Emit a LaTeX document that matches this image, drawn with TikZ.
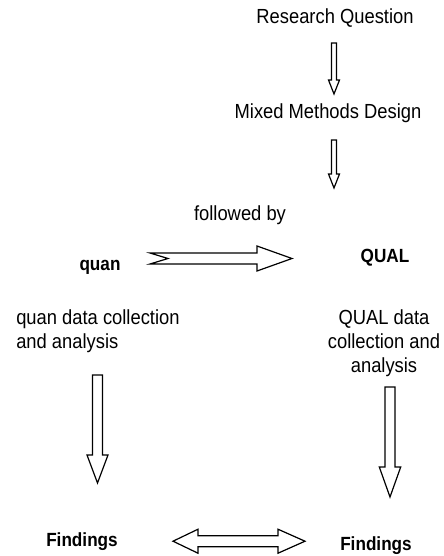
\documentclass[tikz,border=0pt]{standalone}
\usepackage{fontspec}
\setmainfont{Liberation Sans}[FakeStretch=0.9]
\begin{document}
\begin{tikzpicture}[x=0.75pt,y=-0.75pt,
  txt/.style={inner sep=0pt,font=\fontsize{15.3}{18}\selectfont},
  btxt/.style={inner sep=0pt,font=\fontsize{14.3}{18}\selectfont\bfseries},
  blockarrow/.style={draw=black,fill=white,line width=0.9pt,line join=miter}]
\useasboundingbox (0,0) rectangle (443,556);
% texts
\node[txt,anchor=base] (rq) at (335,24) {Research Question};
\node[txt,anchor=base] (mmd) at (328,118) {Mixed Methods Design};
\node[txt,anchor=base] (fb) at (240,220) {followed by};
\node[btxt,anchor=base] (quan) at (100,270) {quan};
\node[btxt,anchor=base] (qual) at (385,262) {QUAL};
\node[txt,anchor=north west,align=left] (quandc) at (16,309) {quan data collection\\and analysis};
\node[txt,anchor=north,align=center] (qualdc) at (384,309) {QUAL data\\collection and\\analysis};
\node[btxt,anchor=base] (f1) at (82,546) {Findings};
\node[btxt,anchor=base] (f2) at (376,550) {Findings};
% block arrows
\draw[blockarrow] (331.5,43) -- (336.5,43) -- (336.5,80) -- (339.5,80) -- (334,94) -- (328.5,80) -- (331.5,80) -- cycle;
\draw[blockarrow] (331.5,140) -- (336.5,140) -- (336.5,174) -- (339.5,174) -- (334,188) -- (328.5,174) -- (331.5,174) -- cycle;
\draw[blockarrow] (150,253) -- (257,253) -- (257,246) -- (292,258.5) -- (257,271) -- (257,264) -- (150,264) -- (168,258.5) -- cycle;
\draw[blockarrow] (92.5,375) -- (102.5,375) -- (102.5,455) -- (108,455) -- (97.5,483) -- (87,455) -- (92.5,455) -- cycle;
\draw[blockarrow] (385,387) -- (395,387) -- (395,467) -- (400.7,467) -- (390,497) -- (379.3,467) -- (385,467) -- cycle;
\draw[blockarrow] (173,541.2) -- (198,529.2) -- (198,535.7) -- (278,535.7) -- (278,529.2) -- (305,541.2) -- (278,553.2) -- (278,546.7) -- (198,546.7) -- (198,553.2) -- cycle;
\end{tikzpicture}
\end{document}
